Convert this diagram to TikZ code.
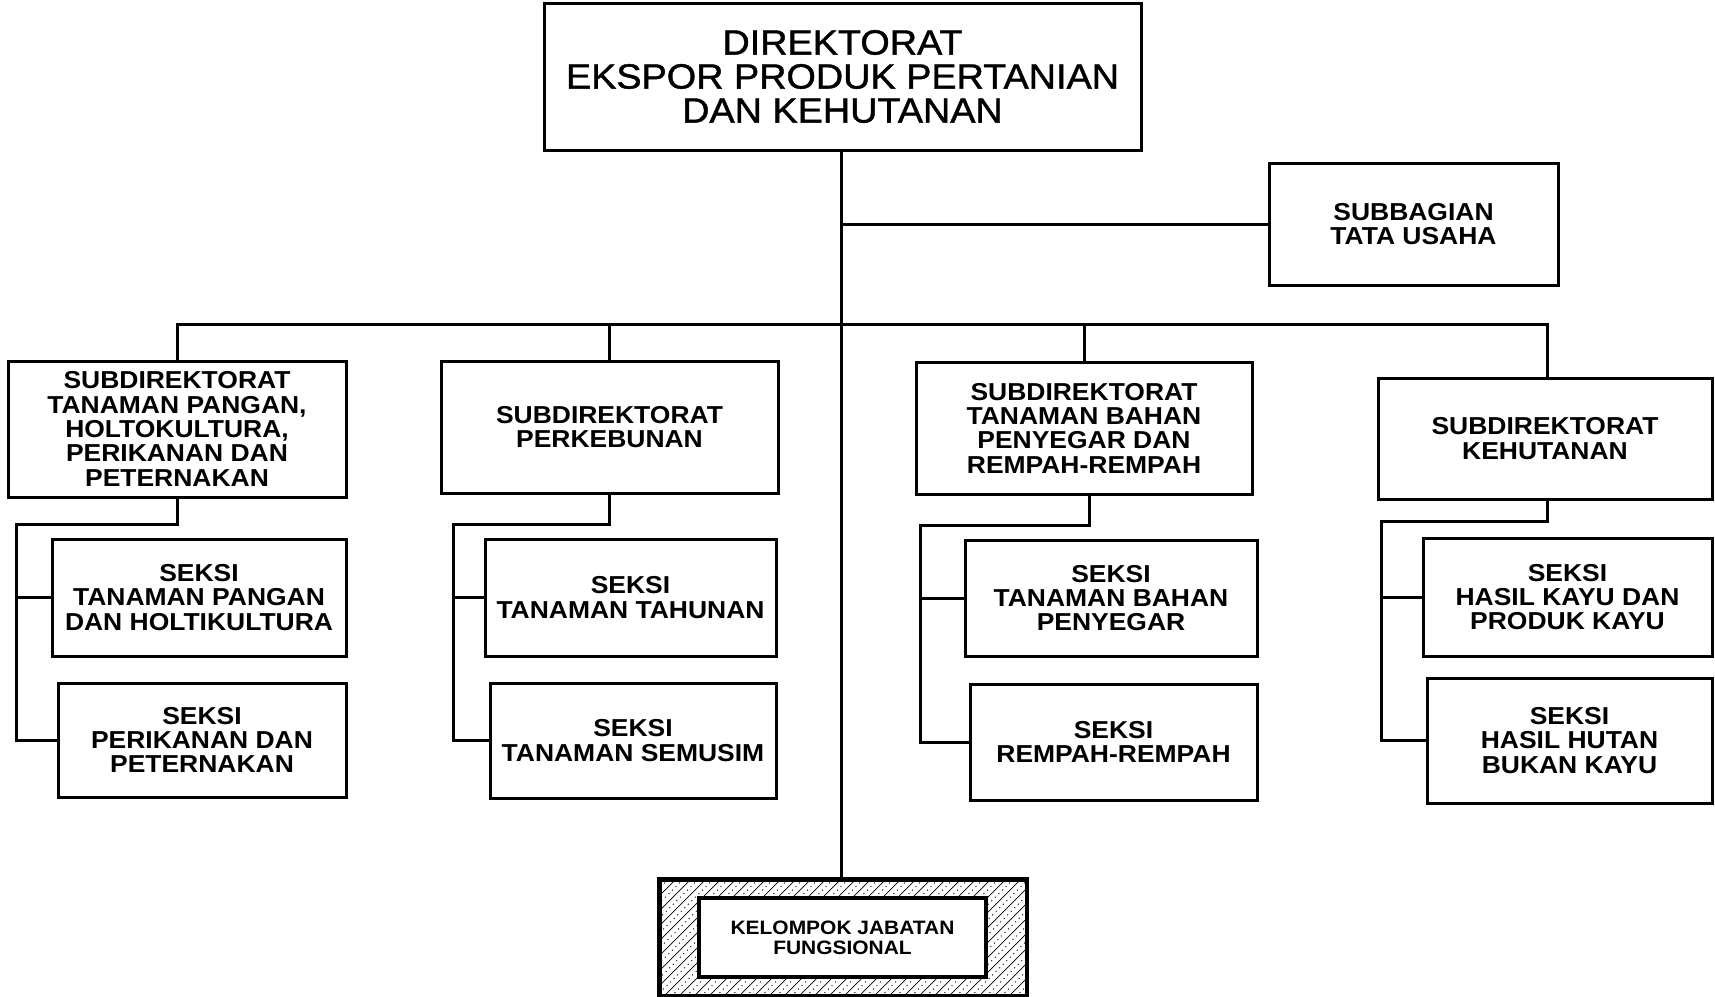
\documentclass[tikz,border=0pt]{standalone}
\usepackage{fontspec}
\setmainfont{Liberation Sans}[FakeStretch=1.08]
\newfontfamily\headfont{Liberation Sans}[FakeStretch=1.08, FakeBold=1.2]
\begin{document}
\begin{tikzpicture}[x=1pt,y=-1pt,
  box/.style={draw, line width=3pt, inner sep=0pt, align=center,
    font={\fontsize{24.5}{24.3}\selectfont\bfseries}},
  titlebox/.style={box, font={\headfont\fontsize{35}{34}\selectfont}},
  link/.style={line width=3pt},
  hatch/.style={line width=0.7pt},
  dots/.style={line width=1pt, dash pattern=on 1pt off 4pt}]
\useasboundingbox (0,0) rectangle (1715,996);

% head of the directorate
\node[titlebox, minimum width=597, minimum height=147] (dir) at (842.5,76.5)
  {DIREKTORAT\\EKSPOR PRODUK PERTANIAN\\DAN KEHUTANAN};
\node[box, minimum width=289, minimum height=122] (sub) at (1413.5,224)
  {SUBBAGIAN\\TATA USAHA};

% sub-directorates
\node[box, minimum width=338, minimum height=136] (sd1) at (177,429)
  {SUBDIREKTORAT\\TANAMAN PANGAN,\\HOLTOKULTURA,\\PERIKANAN DAN\\PETERNAKAN};
\node[box, minimum width=337, minimum height=132] (sd2) at (609.5,427)
  {SUBDIREKTORAT\\PERKEBUNAN};
\node[box, minimum width=336, minimum height=132] (sd3) at (1084,428)
  {SUBDIREKTORAT\\TANAMAN BAHAN\\PENYEGAR DAN\\REMPAH-REMPAH};
\node[box, minimum width=334, minimum height=121] (sd4) at (1545,438.5)
  {SUBDIREKTORAT\\KEHUTANAN};

% sections
\node[box, minimum width=294, minimum height=117] (s1a) at (199,597.5)
  {SEKSI\\TANAMAN PANGAN\\DAN HOLTIKULTURA};
\node[box, minimum width=288, minimum height=114] (s1b) at (202,740)
  {SEKSI\\PERIKANAN DAN\\PETERNAKAN};
\node[box, minimum width=291, minimum height=117] (s2a) at (630.5,597.5)
  {SEKSI\\TANAMAN TAHUNAN};
\node[box, minimum width=286, minimum height=115] (s2b) at (633,740.5)
  {SEKSI\\TANAMAN SEMUSIM};
\node[box, minimum width=292, minimum height=116] (s3a) at (1111,598)
  {SEKSI\\TANAMAN BAHAN\\PENYEGAR};
\node[box, minimum width=287, minimum height=116] (s3b) at (1113.5,742)
  {SEKSI\\REMPAH-REMPAH};
\node[box, minimum width=289, minimum height=118] (s4a) at (1567.5,597)
  {SEKSI\\HASIL KAYU DAN\\PRODUK KAYU};
\node[box, minimum width=285, minimum height=125] (s4b) at (1569.5,740.5)
  {SEKSI\\HASIL HUTAN\\BUKAN KAYU};

% functional group: hatched frame around an inner box
\node[draw, line width=3pt, minimum width=366, minimum height=115, inner sep=0pt] (kel) at (843,937.5) {};
\begin{scope}
  \clip (kel.south west) rectangle (kel.north east);
  \foreach \k in {-10,...,32} {
    \draw[hatch] (540+\k*15,1000) -- ++(125,-125);
    \draw[dots] (547.5+\k*15,1000) -- ++(125,-125);
  }
\end{scope}
\node[draw, line width=4.5pt, fill=white, minimum width=287, minimum height=79, inner sep=0pt,
  align=center, font={\fontsize{19.4}{20}\selectfont\bfseries}] (kelin) at (842.5,937.5)
  {KELOMPOK JABATAN\\FUNGSIONAL};
\draw[line width=3pt] (kel.south west) rectangle (kel.north east);

% trunk and main bus
\coordinate (bus) at (841,324);
\coordinate (tu) at (841,224);
\draw[link] (dir.south -| bus) -- (kel.north -| bus);
\draw[link] (tu) -- (sub.west);
\draw[link] (sd1.north) |- (bus) -| ([xshift=2]sd4.north);
\draw[link] (sd2.north) -- (sd2.north |- bus);
\draw[link] (sd3.north) -- (sd3.north |- bus);

% section branches
\coordinate (c1) at (16,524);
\coordinate (c2) at (453,524);
\coordinate (c3) at (920,525);
\coordinate (c4) at (1381,521);
\draw[link] (sd1.south) |- (c1) |- (s1b.west);
\draw[link] (c1 |- s1a.west) -- (s1a.west);
\draw[link] (sd2.south) |- (c2) |- (s2b.west);
\draw[link] (c2 |- s2a.west) -- (s2a.west);
\draw[link] ([xshift=5]sd3.south) |- (c3) |- (s3b.west);
\draw[link] (c3 |- s3a.west) -- (s3a.west);
\draw[link] ([xshift=2]sd4.south) |- (c4) |- (s4b.west);
\draw[link] (c4 |- s4a.west) -- (s4a.west);
\end{tikzpicture}
\end{document}
